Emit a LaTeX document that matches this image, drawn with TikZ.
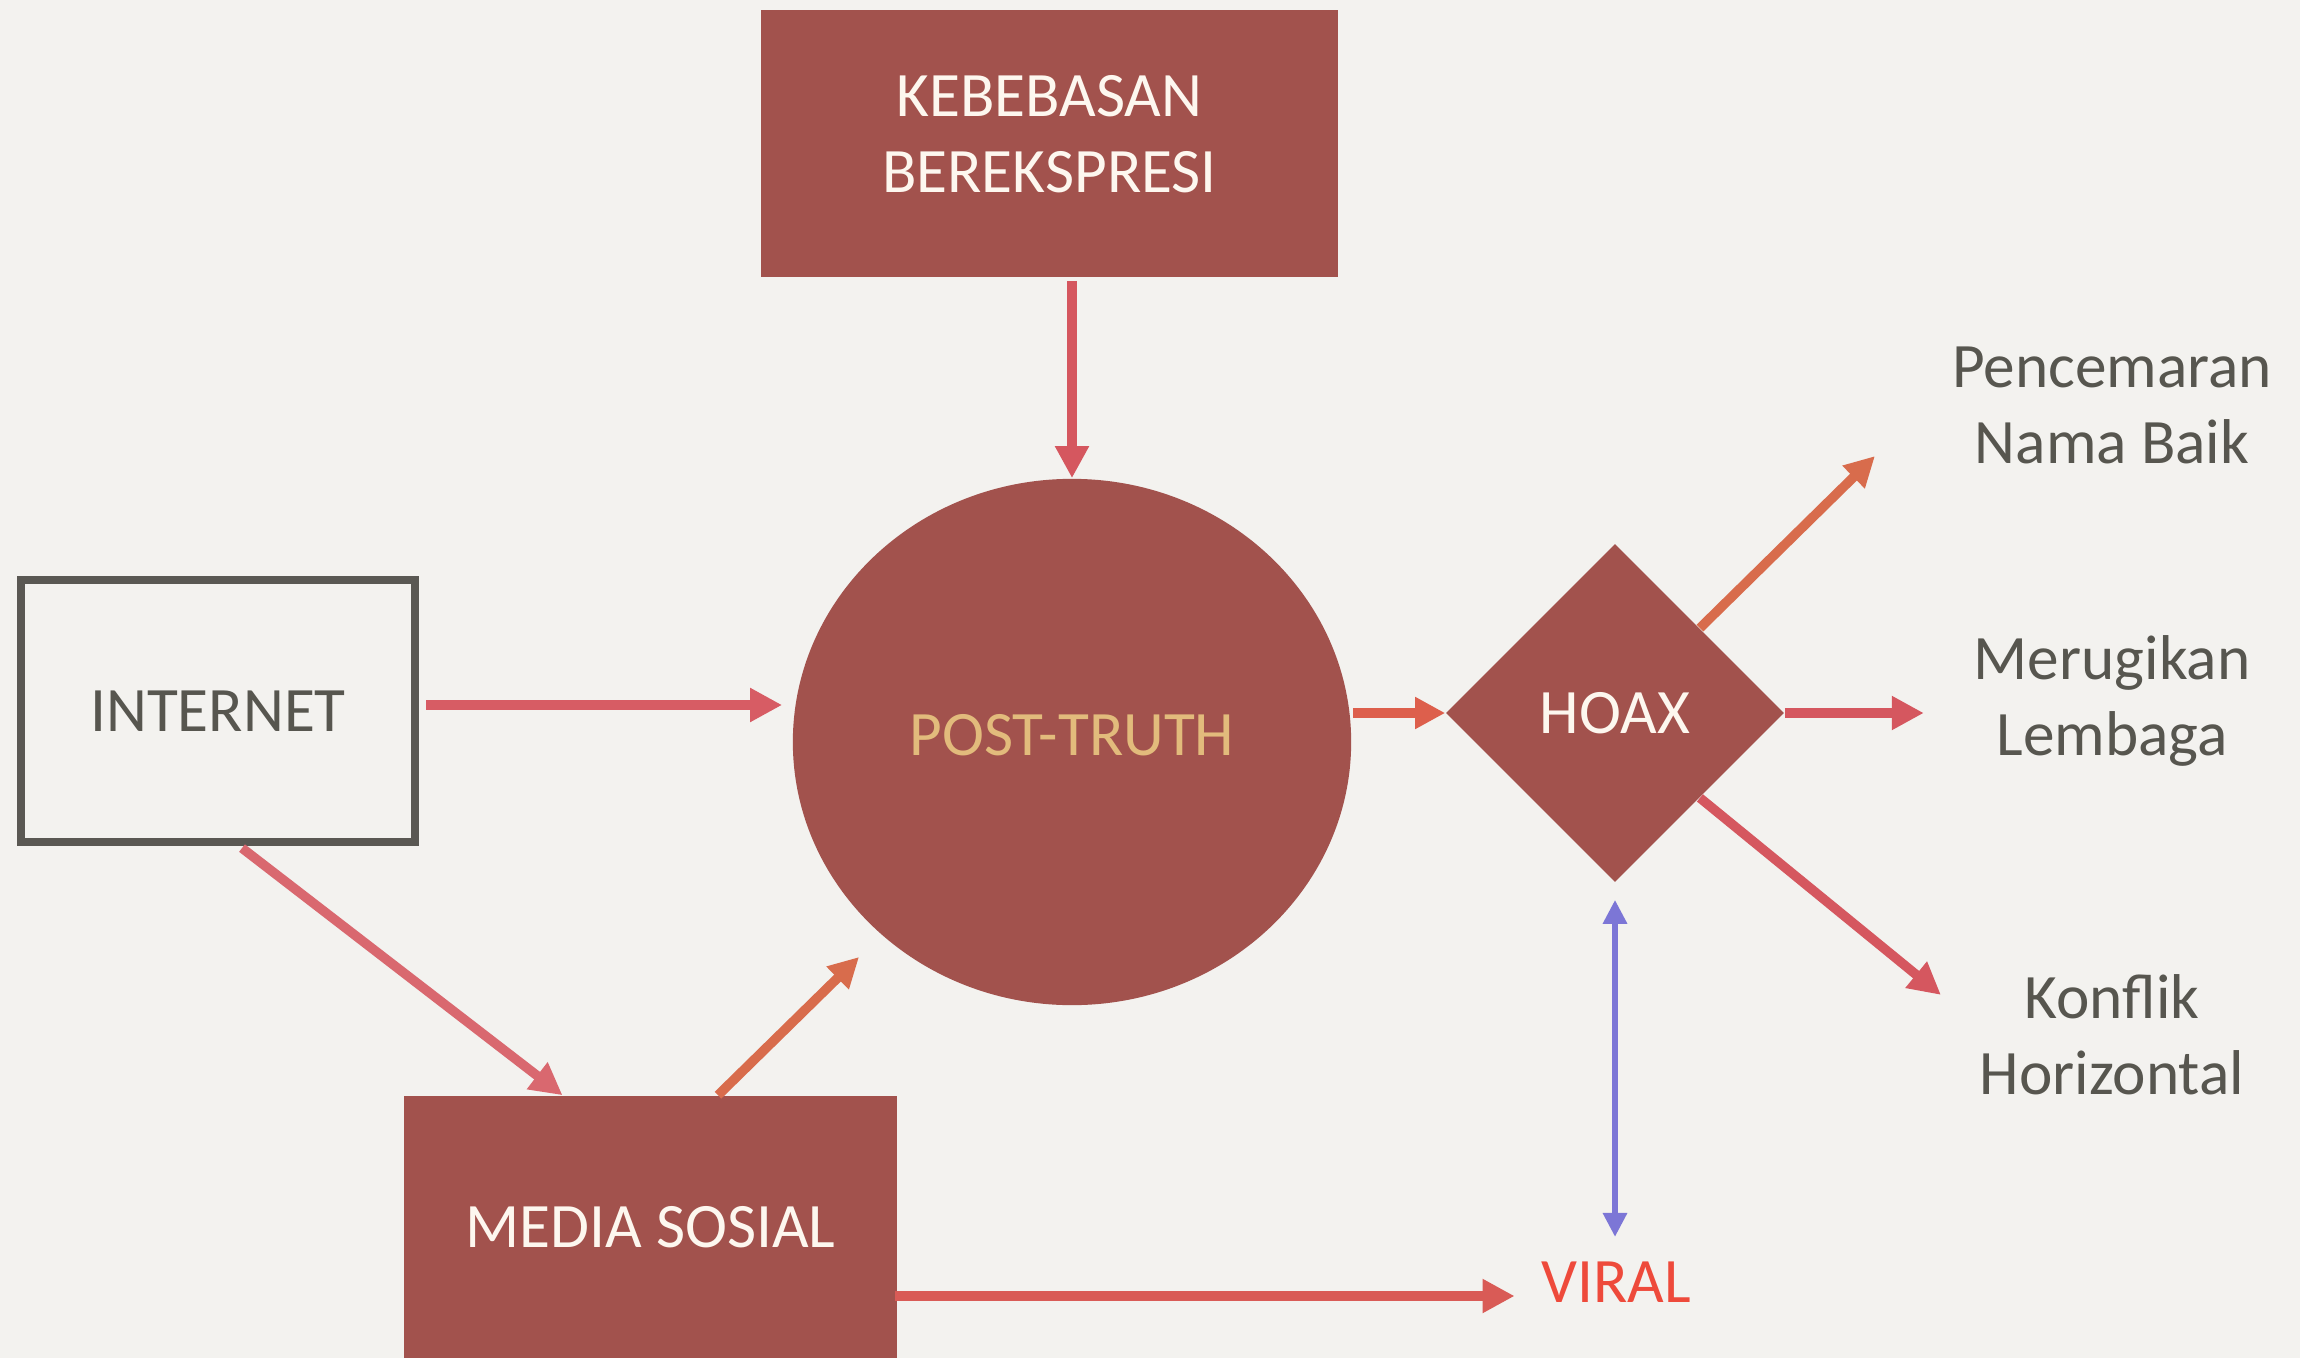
\documentclass[tikz,border=0pt]{standalone}
\usepackage{fontspec}
\setmainfont{Carlito}
\usetikzlibrary{arrows.meta,shapes.geometric,calc}
\definecolor{bg}{HTML}{F3F2EF}
\definecolor{boxred}{HTML}{A2524D}
\definecolor{boxtext}{HTML}{FDF7EF}
\definecolor{arrred}{HTML}{D5575F}
\definecolor{arrorange}{HTML}{D86C4C}
\definecolor{arrpurple}{HTML}{7C76D6}
\definecolor{goldtext}{HTML}{E2BB7C}
\definecolor{viralred}{HTML}{EE4A3B}
\definecolor{graytext}{HTML}{57564F}
\definecolor{framegray}{HTML}{5A5853}
\begin{document}
\begin{tikzpicture}[x=0.01cm,y=-0.01cm,
  lbl/.style={font=\fontsize{18pt}{21.6pt}\selectfont, align=center, inner sep=0pt},
  redbox/.style={lbl, rectangle, fill=boxred, text=boxtext},
  sidelbl/.style={lbl, text=graytext},
  conn/.style={line width=0.095cm, draw=arrred, -{Triangle[length=0.32cm,width=0.32cm]}},
  connor/.style={conn, draw=arrorange, fill=arrorange, -{Triangle[length=0.3cm,width=0.3cm]}},
  connpur/.style={line width=0.065cm, draw=arrpurple, {Triangle[length=0.24cm,width=0.23cm]}-{Triangle[length=0.24cm,width=0.23cm]}}
]
\useasboundingbox (0,0) rectangle (2300,1358);
\fill[bg] (0,0) rectangle (2300,1358);

% nodes
\node[redbox, minimum width=5.77cm, minimum height=2.67cm] (keb) at (1049.5,143.5) {KEBEBASAN\\BEREKSPRESI\\[-0.56cm]\mbox{}};
\node[lbl, rectangle, draw=framegray, line width=0.08cm, text=graytext, minimum width=3.94cm, minimum height=2.62cm] (internet) at (218,711) {INTERNET};
\node[lbl, ellipse, fill=boxred, text=goldtext, minimum width=5.58cm, minimum height=5.26cm] (circ) at (1072,742) {POST-TRUTH\\[-0.62cm]\mbox{}};
\node[lbl, diamond, fill=boxred, text=boxtext, minimum width=3.38cm, minimum height=3.38cm] (hoax) at (1615,713) {HOAX};
\node[redbox, minimum width=4.92cm, minimum height=2.62cm] (media) at (650.5,1227) {MEDIA SOSIAL};
\node[lbl, text=viralred] (viral) at (1616,1282) {VIRAL};
\node[sidelbl] (penc) at (2112,405) {Pencemaran\\Nama Baik};
\node[sidelbl] (merug) at (2112,701) {Merugikan\\Lembaga};
\node[sidelbl] (konf) at (2112,1035) {Konflik\\Horizontal};

% connectors
\draw[conn, shorten <=0.03cm] (circ.north |- keb.south) -- (circ.north);
\draw[conn, line width=0.1cm, draw=arrred!95!pink] ([shift={(7,-6)}]internet.east) -- ([shift={(-10,-37)}]circ.west);
\draw[conn, draw=arrred!90!white] ([shift={(24,2)}]internet.south) -- ([shift={(-88,0)}]media.north);
\draw[connor] ([shift={(67.5,0)}]media.north) -- ([shift={(-213,215)}]circ.center);
\draw[conn, line width=0.1cm, draw=arrred!90!orange] ([shift={(-2,69)}]media.east) -- ([shift={(-26,14)}]viral.west);
\draw[connpur, shorten <=0.17cm, shorten >=0.24cm] (hoax.south) -- (hoax.south |- viral.north);
\draw[conn, draw=arrred!80!orange, -{Triangle[length=0.3cm,width=0.3cm]}] ([xshift=0.01cm]hoax.west -| circ.east) -- (hoax.west);
\draw[conn] (hoax.east) -- ([shift={(139,0)}]hoax.east);
\draw[connor] (hoax.north east) -- ([shift={(175,-172)}]hoax.north east);
\draw[conn] (hoax.south east) -- ([shift={(241,197)}]hoax.south east);
\end{tikzpicture}
\end{document}
